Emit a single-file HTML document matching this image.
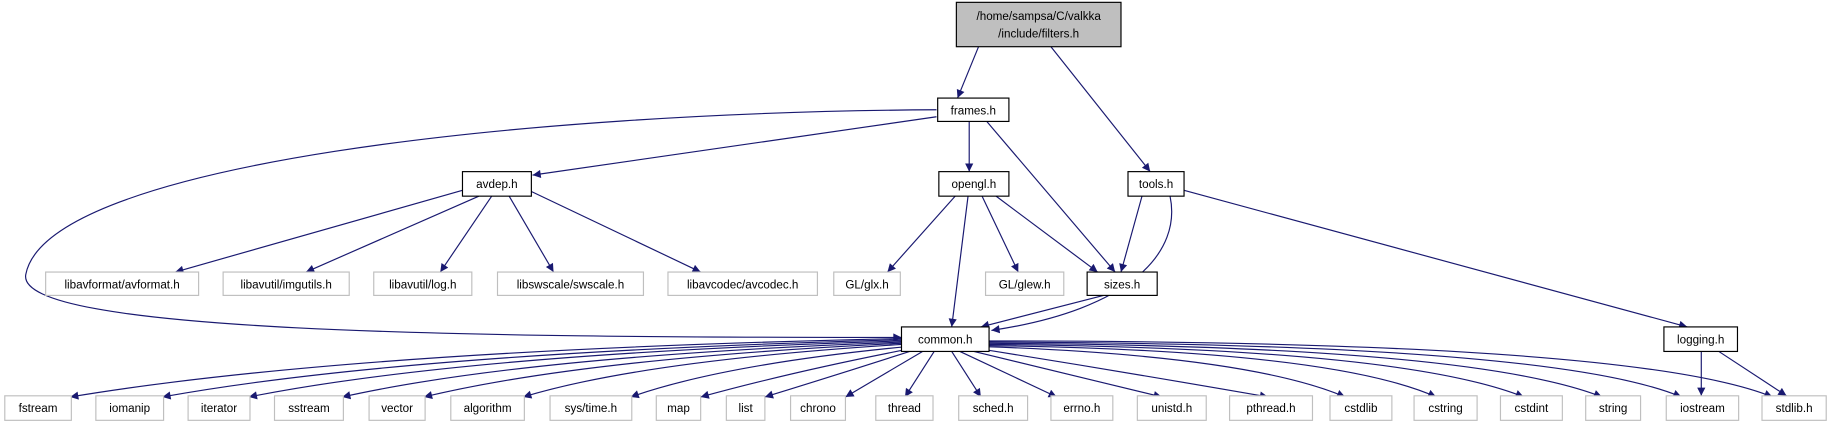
<!DOCTYPE html>
<html><head><meta charset="utf-8"><style>
html,body{margin:0;padding:0;background:#fff;}
svg{display:block}
text{font-family:"Liberation Sans",sans-serif;font-size:10px;text-anchor:middle;fill:#000}
.e{fill:none;stroke:#191970;stroke-width:1}
.g{fill:#fff;stroke:#bfbfbf;stroke-width:1}
.b{fill:#fff;stroke:#000;stroke-width:1}
</style></head><body>
<svg width="1831" height="425" viewBox="0 0 1568 364" xmlns="http://www.w3.org/2000/svg">
<defs><marker id="a" viewBox="0 0 10 10" refX="10" refY="5" markerWidth="9" markerHeight="7" orient="auto" markerUnits="userSpaceOnUse"><path d="M0,0 L10,5 L0,10 z" fill="#191970"/></marker></defs>
<g marker-end="url(#a)">
<path class="e" d="M838,40 L820,84"/>
<path class="e" d="M900,40 L985,147"/>
<path class="e" d="M802,100 L456,150"/>
<path class="e" d="M802,94 C450,96 40,140 22,235 C12,285 400,289 772,289"/>
<path class="e" d="M830,104 L830,147"/>
<path class="e" d="M845,104 L955,233"/>
<path class="e" d="M396,163 L150,233"/>
<path class="e" d="M410,168 L262,233"/>
<path class="e" d="M421,168 L377,233"/>
<path class="e" d="M436,168 L474,233"/>
<path class="e" d="M455,164 L600,233"/>
<path class="e" d="M818,168 L760,233"/>
<path class="e" d="M829,168 L815,280"/>
<path class="e" d="M841,168 L872,233"/>
<path class="e" d="M853,168 L940,233"/>
<path class="e" d="M978,168 L960,233"/>
<path class="e" d="M1002,168 C1012,215 970,265 849,283"/>
<path class="e" d="M1014,163 L1445,280"/>
<path class="e" d="M945,253 L840,280"/>
<path class="e" d="M1457,301 L1457,339"/>
<path class="e" d="M1472,301 L1530,339"/>
<path class="e" d="M772,290 Q300,300 60,340"/>
<path class="e" d="M772,291 Q350,302 139,340"/>
<path class="e" d="M772,292 Q400,303 213,340"/>
<path class="e" d="M772,293 Q450,305 293,340"/>
<path class="e" d="M772,294 Q500,307 363,340"/>
<path class="e" d="M772,295 Q550,309 448,340"/>
<path class="e" d="M775,297 Q620,312 540,340"/>
<path class="e" d="M778,299 Q680,318 600,340"/>
<path class="e" d="M782,300 Q720,320 655,340"/>
<path class="e" d="M790,301 L724,340"/>
<path class="e" d="M800,301 L775,340"/>
<path class="e" d="M815,301 L840,340"/>
<path class="e" d="M822,301 L905,340"/>
<path class="e" d="M830,300 L995,340"/>
<path class="e" d="M840,299 Q960,318 1086,340"/>
<path class="e" d="M847,297 Q1070,305 1152,340"/>
<path class="e" d="M847,296 Q1140,300 1230,340"/>
<path class="e" d="M847,295 Q1200,298 1305,340"/>
<path class="e" d="M847,294 Q1260,296 1372,340"/>
<path class="e" d="M847,293 Q1330,294 1440,340"/>
<path class="e" d="M847,292 Q1400,292 1518,340"/>
</g>
<rect x="819" y="2" width="141" height="38" fill="#bfbfbf" stroke="#000"/>
<text x="889.5" y="17">/home/sampsa/C/valkka</text><text x="889.5" y="32">/include/filters.h</text>
<rect class="b" x="803" y="84" width="61" height="20"/><text x="833.5" y="98">frames.h</text>
<rect class="b" x="396" y="147" width="59" height="21"/><text x="425.5" y="161">avdep.h</text>
<rect class="b" x="804" y="147" width="60" height="21"/><text x="834" y="161">opengl.h</text>
<rect class="b" x="966" y="147" width="48" height="21"/><text x="990" y="161">tools.h</text>
<rect class="g" x="39" y="233" width="131" height="20"/><text x="104.5" y="247">libavformat/avformat.h</text>
<rect class="g" x="191" y="233" width="108" height="20"/><text x="245" y="247">libavutil/imgutils.h</text>
<rect class="g" x="320" y="233" width="84" height="20"/><text x="362" y="247">libavutil/log.h</text>
<rect class="g" x="426" y="233" width="125" height="20"/><text x="488.5" y="247">libswscale/swscale.h</text>
<rect class="g" x="572" y="233" width="128" height="20"/><text x="636" y="247">libavcodec/avcodec.h</text>
<rect class="g" x="714" y="233" width="57" height="20"/><text x="742.5" y="247">GL/glx.h</text>
<rect class="g" x="844" y="233" width="67" height="20"/><text x="877.5" y="247">GL/glew.h</text>
<rect class="b" x="931" y="233" width="60" height="20"/><text x="961" y="247">sizes.h</text>
<rect class="b" x="772" y="280" width="75" height="21"/><text x="809.5" y="294">common.h</text>
<rect class="b" x="1425" y="280" width="63" height="21"/><text x="1456.5" y="294">logging.h</text>
<g>
<rect class="g" x="4" y="339" width="57" height="21"/><text x="32.5" y="353">fstream</text>
<rect class="g" x="82" y="339" width="58" height="21"/><text x="111" y="353">iomanip</text>
<rect class="g" x="161" y="339" width="53" height="21"/><text x="187.5" y="353">iterator</text>
<rect class="g" x="235" y="339" width="59" height="21"/><text x="264.5" y="353">sstream</text>
<rect class="g" x="316" y="339" width="48" height="21"/><text x="340" y="353">vector</text>
<rect class="g" x="386" y="339" width="63" height="21"/><text x="417.5" y="353">algorithm</text>
<rect class="g" x="471" y="339" width="70" height="21"/><text x="506" y="353">sys/time.h</text>
<rect class="g" x="562" y="339" width="38" height="21"/><text x="581" y="353">map</text>
<rect class="g" x="622" y="339" width="33" height="21"/><text x="638.5" y="353">list</text>
<rect class="g" x="677" y="339" width="47" height="21"/><text x="700.5" y="353">chrono</text>
<rect class="g" x="750" y="339" width="49" height="21"/><text x="774.5" y="353">thread</text>
<rect class="g" x="821" y="339" width="59" height="21"/><text x="850.5" y="353">sched.h</text>
<rect class="g" x="900" y="339" width="53" height="21"/><text x="926.5" y="353">errno.h</text>
<rect class="g" x="974" y="339" width="59" height="21"/><text x="1003.5" y="353">unistd.h</text>
<rect class="g" x="1053" y="339" width="71" height="21"/><text x="1088.5" y="353">pthread.h</text>
<rect class="g" x="1139" y="339" width="53" height="21"/><text x="1165.5" y="353">cstdlib</text>
<rect class="g" x="1211" y="339" width="54" height="21"/><text x="1238" y="353">cstring</text>
<rect class="g" x="1285" y="339" width="53" height="21"/><text x="1311.5" y="353">cstdint</text>
<rect class="g" x="1358" y="339" width="47" height="21"/><text x="1381.5" y="353">string</text>
<rect class="g" x="1427" y="339" width="62" height="21"/><text x="1458" y="353">iostream</text>
<rect class="g" x="1509" y="339" width="55" height="21"/><text x="1536.5" y="353">stdlib.h</text>
</g>
</svg>
</body></html>
